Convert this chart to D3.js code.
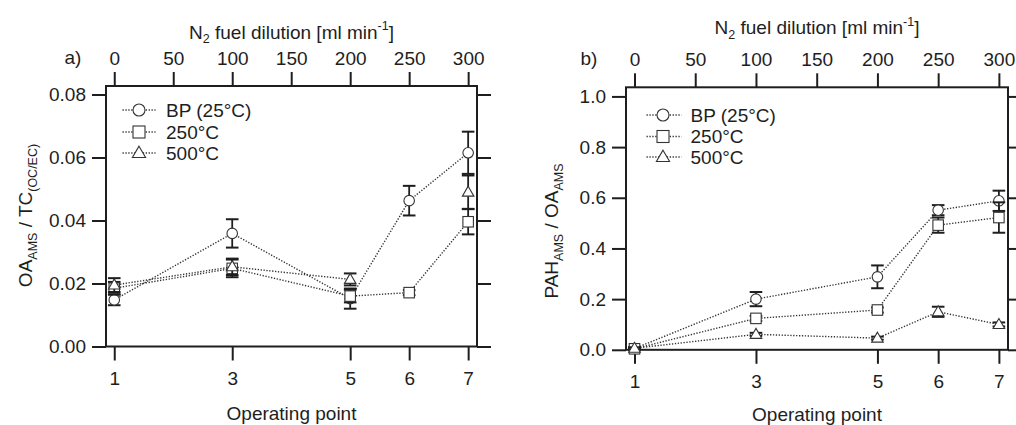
<!DOCTYPE html>
<html>
<head>
<meta charset="utf-8">
<script src="https://cdn.jsdelivr.net/npm/d3@7"></script>
<style>
  html, body { margin: 0; padding: 0; background: #fff; }
  svg { display: block; font-family: "Liberation Sans", Arial, sans-serif; }
</style>
</head>
<body>
<svg id="chart" width="1016" height="425"></svg>
<script>
// ---- data ----
const opPoints = [1, 3, 5, 6, 7];
const dilution = [0, 100, 200, 250, 300];
const dilutionTicks = [0, 50, 100, 150, 200, 250, 300];
const seriesNames = ["BP (25°C)", "250°C", "500°C"];
const seriesMarkers = ["circle", "square", "triangle"];

// panel a: OA_AMS / TC(OC/EC)
const aBP     = [0.0148, 0.0359, 0.0152, 0.0463, 0.0615];
const aBPErr  = [0.0017, 0.0045, 0.0032, 0.0047, 0.0067];
const a250    = [0.0185, 0.0248, 0.0160, 0.0171, 0.0396];
const a250Err = [0.0020, 0.0028, 0.0020, 0.0008, 0.0040];
const a500    = [0.0195, 0.0253, 0.0213, null, 0.0490];
const a500Err = [0.0022, 0.0026, 0.0019, null, 0.0053];
const aTicks  = [0, 0.02, 0.04, 0.06, 0.08];

// panel b: PAH_AMS / OA_AMS
const bBP     = [0.005, 0.200, 0.288, 0.551, 0.588];
const bBPErr  = [0.005, 0.028, 0.045, 0.020, 0.040];
const b250    = [0.004, 0.124, 0.157, 0.492, 0.522];
const b250Err = [0.004, 0.010, 0.010, 0.030, 0.060];
const b500    = [0.006, 0.061, 0.046, 0.150, 0.100];
const b500Err = [0.004, 0.006, 0.006, 0.020, 0.008];
const bTicks  = [0, 0.2, 0.4, 0.6, 0.8, 1.0];

// ---- drawing ----
const svg = d3.select("#chart");
const INK = "#1e1e1e";
const FS = 19, SUB = 12.5;

function marker(g, type, x, y, s) {
  if (type === "circle") {
    g.append("circle").attr("cx", x).attr("cy", y).attr("r", s * 0.5)
      .attr("fill", "#fff").attr("stroke", "#333").attr("stroke-width", 1.1);
  } else if (type === "square") {
    g.append("rect").attr("x", x - s / 2).attr("y", y - s / 2).attr("width", s).attr("height", s)
      .attr("fill", "#fff").attr("stroke", "#333").attr("stroke-width", 1.1);
  } else {
    const h = s * 0.95;
    g.append("path")
      .attr("d", `M${x},${y - h * 0.6}L${x + s * 0.55},${y + h * 0.4}L${x - s * 0.55},${y + h * 0.4}Z`)
      .attr("fill", "#fff").attr("stroke", "#333").attr("stroke-width", 1.1);
  }
}

function drawPanel(cfg) {
  const g = svg.append("g");
  const x = d3.scaleLinear().domain([-7, 307.5]).range([cfg.left, cfg.right]);
  const y = d3.scaleLinear().domain([0, cfg.yMax]).range([cfg.bottom, cfg.top]);
  const tickLen = 14;

  // frame
  g.append("rect").attr("x", cfg.left).attr("y", cfg.top)
    .attr("width", cfg.right - cfg.left).attr("height", cfg.bottom - cfg.top)
    .attr("fill", "none").attr("stroke", INK).attr("stroke-width", 2);

  const left = d3.axisLeft(y).tickValues(cfg.yTicks).tickSize(tickLen).tickPadding(6)
    .tickFormat(d3.format(cfg.yFmt));
  const gl = g.append("g").attr("transform", `translate(${cfg.left},0)`).call(left);
  const right = d3.axisRight(y).tickValues(cfg.yTicks).tickSize(tickLen).tickFormat("");
  const gr = g.append("g").attr("transform", `translate(${cfg.right},0)`).call(right);
  const bottom = d3.axisBottom(x).tickValues(dilution).tickSize(tickLen).tickPadding(11)
    .tickFormat((d, i) => opPoints[i]);
  const gb = g.append("g").attr("transform", `translate(0,${cfg.bottom})`).call(bottom);
  const top = d3.axisTop(x).tickValues(dilutionTicks).tickSize(tickLen).tickPadding(7);
  const gt = g.append("g").attr("transform", `translate(0,${cfg.top})`).call(top);

  [gl, gr, gb, gt].forEach(a => {
    a.select(".domain").remove();
    a.selectAll(".tick line").attr("stroke", INK).attr("stroke-width", 2);
    a.selectAll(".tick text").attr("fill", INK).attr("font-size", FS)
      .attr("font-family", '"Liberation Sans", Arial, sans-serif');
  });

  g.append("text").attr("x", cfg.letterX).attr("y", cfg.top - 22).attr("text-anchor", "middle")
    .attr("font-size", FS).attr("fill", INK).text(cfg.letter);

  const tt = g.append("text").attr("x", (cfg.left + cfg.right) / 2).attr("y", cfg.titleY)
    .attr("text-anchor", "middle").attr("font-size", FS).attr("fill", INK);
  tt.append("tspan").text("N");
  tt.append("tspan").attr("font-size", SUB).attr("dy", 4.5).text("2");
  tt.append("tspan").attr("dy", -4.5).text(" fuel dilution [ml min");
  tt.append("tspan").attr("font-size", SUB).attr("dy", -8.5).text("-1");
  tt.append("tspan").attr("dy", 8.5).text("]");

  g.append("text").attr("x", (cfg.left + cfg.right) / 2).attr("y", cfg.xTitleY)
    .attr("text-anchor", "middle").attr("font-size", FS).attr("fill", INK).text("Operating point");

  const yt = g.append("text")
    .attr("transform", `translate(${cfg.yTitleX},${cfg.yTitleY}) rotate(-90)`)
    .attr("text-anchor", "middle").attr("font-size", FS).attr("fill", INK);
  let shifted = false;
  cfg.yTitle.forEach(([txt, sub]) => {
    const dy = sub ? (shifted ? 0 : 4.5) : (shifted ? -4.5 : 0);
    shifted = !!sub;
    yt.append("tspan").attr("dy", dy).attr("font-size", sub ? SUB : FS).text(txt);
  });

  const line = d3.line().defined(d => d.v != null).x(d => x(d.x)).y(d => y(d.v));
  cfg.series.forEach((s, si) => {
    const pts = dilution.map((d, i) => ({ x: d, v: s.v[i], e: s.e[i] }));
    g.append("path").datum(pts).attr("d", line).attr("fill", "none")
      .attr("stroke", "#333").attr("stroke-width", 1.4).attr("stroke-dasharray", "1.3,1.6");
    const eg = g.append("g");
    pts.filter(p => p.v != null).forEach(p => {
      const cx = x(p.x), y1 = y(p.v + p.e), y0 = y(p.v - p.e);
      eg.append("line").attr("x1", cx).attr("x2", cx).attr("y1", y1).attr("y2", y0)
        .attr("stroke", INK).attr("stroke-width", 1.8);
      [y1, y0].forEach(yy => eg.append("line").attr("x1", cx - 6.3).attr("x2", cx + 6.3)
        .attr("y1", yy).attr("y2", yy).attr("stroke", INK).attr("stroke-width", 2));
    });
    const mg = g.append("g");
    pts.filter(p => p.v != null).forEach(p => marker(mg, seriesMarkers[si], x(p.x), y(p.v), 10.5));
  });

  seriesNames.forEach((name, i) => {
    const ly = cfg.legY[i];
    g.append("line").attr("x1", cfg.legX0).attr("x2", cfg.legX1).attr("y1", ly).attr("y2", ly)
      .attr("stroke", "#333").attr("stroke-width", 1.4).attr("stroke-dasharray", "1.3,1.6");
    marker(g, seriesMarkers[i], cfg.legM, ly, 12);
    g.append("text").attr("x", cfg.legT).attr("y", ly).attr("dy", "0.36em")
      .attr("font-size", FS).attr("fill", INK).text(name);
  });
}

drawPanel({
  left: 106, right: 477, top: 86, bottom: 346.5, yMax: 0.0827,
  yTicks: aTicks, yFmt: ".2f", letter: "a)", letterX: 73, titleY: 38.5, xTitleY: 420,
  yTitleX: 32, yTitleY: 215.5,
  yTitle: [["OA"], ["AMS", true], [" / TC"], ["(OC/EC)", true]],
  series: [{ v: aBP, e: aBPErr }, { v: a250, e: a250Err }, { v: a500, e: a500Err }],
  legY: [110, 132, 153], legX0: 122.5, legX1: 155.5, legM: 139, legT: 166
});

drawPanel({
  left: 626, right: 1008, top: 87.3, bottom: 349.8, yMax: 1.036,
  yTicks: bTicks, yFmt: ".1f", letter: "b)", letterX: 589, titleY: 34, xTitleY: 421,
  yTitleX: 558, yTitleY: 231,
  yTitle: [["PAH"], ["AMS", true], [" / OA"], ["AMS", true]],
  series: [{ v: bBP, e: bBPErr }, { v: b250, e: b250Err }, { v: b500, e: b500Err }],
  legY: [115, 136.5, 157], legX0: 646.5, legX1: 681.5, legM: 663, legT: 690.5
});
</script>
</body>
</html>
